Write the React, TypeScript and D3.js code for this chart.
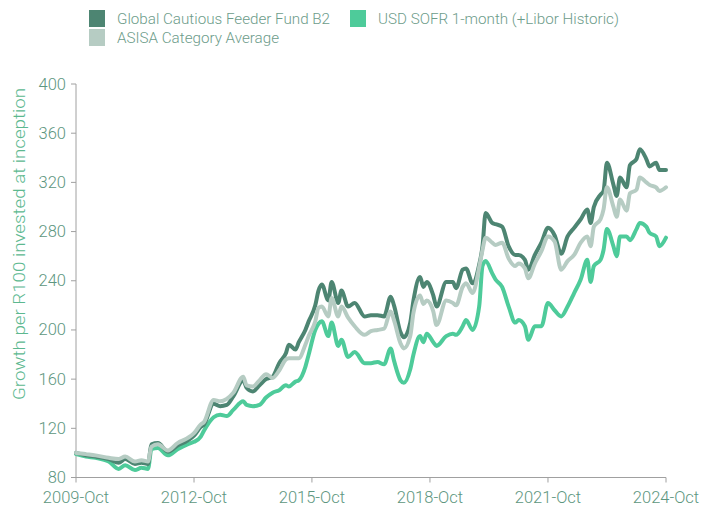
import React from "react";
import * as d3 from "d3";

const months: string[] = [
  "2009-10","2010-01","2010-04","2010-08","2010-11","2011-01","2011-04","2011-06","2011-08","2011-09",
  "2011-11","2012-02","2012-05","2012-08","2012-10","2012-12","2013-01","2013-04","2013-06","2013-08",
  "2013-10","2014-01","2014-02","2014-04","2014-06","2014-08","2014-10","2014-12","2015-02","2015-03",
  "2015-05","2015-06","2015-08","2015-09","2015-11","2015-12","2016-01","2016-03","2016-04","2016-06",
  "2016-07","2016-09","2016-11","2017-02","2017-04","2017-06","2017-08","2017-10","2017-11","2018-01",
  "2018-02","2018-04","2018-05","2018-07","2018-08","2018-09","2018-11","2018-12","2019-03","2019-05",
  "2019-06","2019-08","2019-09","2019-11","2020-01","2020-02","2020-03","2020-05","2020-06","2020-08",
  "2020-10","2020-12","2021-01","2021-03","2021-04","2021-06","2021-08","2021-10","2021-12","2022-02",
  "2022-04","2022-06","2022-08","2022-10","2022-11","2022-12","2023-02","2023-03","2023-04","2023-06",
  "2023-07","2023-08","2023-10","2023-11","2024-01","2024-02","2024-04","2024-05","2024-07","2024-08",
  "2024-10"
];

const fund: number[] = [
  100,98,97,95,92,95,91,92,91,107,
  108,101,106,110,114,121,123,140,138,139,
  146,159,153,150,155,160,162,173,181,188,
  184,190,200,207,220,232,237,224,239,222,
  232,219,222,211,212,212,211,227,220,198,
  194,206,224,243,235,239,228,219,239,239,
  234,249,250,238,253,268,295,287,286,284,
  268,261,261,257,249,261,271,283,277,262,
  276,283,290,298,287,300,310,313,336,318,
  309,324,316,334,339,347,339,333,336,330,
  330
];

const asisa: number[] = [
  100,99,98,96,95,97,93,94,93,105,
  107,102,108,112,116,123,125,143,142,144,
  149,162,155,154,159,164,161,167,176,177,
  177,177,188,195,207,218,219,211,226,211,
  219,210,203,196,199,200,201,215,208,189,
  185,195,214,228,221,224,215,204,224,222,
  220,235,238,230,251,265,275,271,269,271,
  258,252,254,250,242,254,264,276,272,249,
  256,261,271,276,268,284,290,298,316,300,
  292,306,297,311,314,324,320,318,316,313,
  316
];

const sofr: number[] = [
  99,97,96,93,87,90,86,88,87,103,
  104,98,103,107,109,113,118,129,131,130,
  135,142,139,138,139,145,149,151,155,154,
  158,159,170,180,200,205,207,195,206,187,
  192,178,182,173,173,174,172,185,175,159,
  157,168,180,195,190,197,190,187,195,197,
  196,203,208,200,219,252,256,246,241,235,
  219,206,208,203,192,203,203,222,216,211,
  219,230,241,257,239,252,257,265,282,268,
  260,276,276,273,282,287,284,279,276,268,
  275
];

const yTicks: number[] = [80, 120, 160, 200, 240, 280, 320, 360, 400];
const xTickLabels: string[] = ["2009-Oct", "2012-Oct", "2015-Oct", "2018-Oct", "2021-Oct", "2024-Oct"];
const seriesNames: string[] = [
  "Global Cautious Feeder Fund B2",
  "USD SOFR 1-month (+Libor Historic)",
  "ASISA Category Average",
];

const COL_FUND = "#4d8572";
const COL_SOFR = "#4ecb9a";
const COL_ASISA = "#b6ccc3";
const FONT = "Roboto, 'Open Sans', sans-serif";

export default function App() {
  const W = 701, H = 505;
  const left = 76, right = 666, top = 84, bottom = 477.5;
  const parse = d3.timeParse("%Y-%m");
  const dates = months.map((m) => parse(m) as Date);
  const x = d3.scaleTime().domain([parse("2009-10") as Date, parse("2024-10") as Date]).range([left, right]);
  const y = d3.scaleLinear().domain([80, 400]).range([bottom, top]);
  const tickDates = xTickLabels.map((l) => d3.timeParse("%Y-%b")(l) as Date);

  const line = d3
    .line<number>()
    .x((_, i) => x(dates[i]))
    .y((v) => y(v))
    .curve(d3.curveMonotoneX);

  const series = [
    { vals: sofr, col: COL_SOFR },
    { vals: fund, col: COL_FUND },
    { vals: asisa, col: COL_ASISA },
  ];

  const legend = [
    { name: seriesNames[0], col: COL_FUND, x: 89, y: 10 },
    { name: seriesNames[1], col: COL_SOFR, x: 350, y: 10 },
    { name: seriesNames[2], col: COL_ASISA, x: 89, y: 29 },
  ];

  return (
    <svg width={W} height={H} style={{ position: "absolute", left: 0, top: 0, background: "#fff" }} fontFamily={FONT}>
      {legend.map((l, i) => (
        <g key={i}>
          <rect x={l.x} y={l.y} width={16} height={17} fill={l.col} />
          <text x={l.x + 28} y={l.y + 14} fontSize={15.2} fontWeight={300} fill="#6d9c8a">
            {l.name}
          </text>
        </g>
      ))}

      <text
        transform={`translate(25,${244}) rotate(-90)`}
        textAnchor="middle"
        fontSize={16}
        fontWeight={300}
        fill="#5cb88f"
        textLength={312}
        lengthAdjust="spacingAndGlyphs"
      >
        Growth per R100 invested at inception
      </text>

      {/* y axis */}
      <line x1={left} x2={left} y1={top} y2={bottom} stroke="#a0a0a0" strokeWidth={1} />
      {yTicks.map((t) => (
        <g key={t}>
          <line x1={left - 5} x2={left} y1={y(t)} y2={y(t)} stroke="#a0a0a0" />
          <text x={left - 10} y={y(t) + 5.5} textAnchor="end" fontSize={16.5} fontWeight={300} fill="#5d9680">
            {t}
          </text>
        </g>
      ))}

      {/* x axis */}
      <line x1={left} x2={right} y1={bottom} y2={bottom} stroke="#a0a0a0" strokeWidth={1} />
      {tickDates.map((d, i) => (
        <g key={i}>
          <line x1={x(d)} x2={x(d)} y1={bottom} y2={bottom + 5} stroke="#a0a0a0" />
          <text x={x(d)} y={bottom + 25} textAnchor="middle" fontSize={16.5} fontWeight={300} fill="#5d9680">
            {xTickLabels[i]}
          </text>
        </g>
      ))}

      {series.map((s, i) => (
        <path
          key={i}
          d={line(s.vals) || ""}
          fill="none"
          stroke={s.col}
          strokeWidth={4}
          strokeLinejoin="round"
          strokeLinecap="round"
        />
      ))}
    </svg>
  );
}
